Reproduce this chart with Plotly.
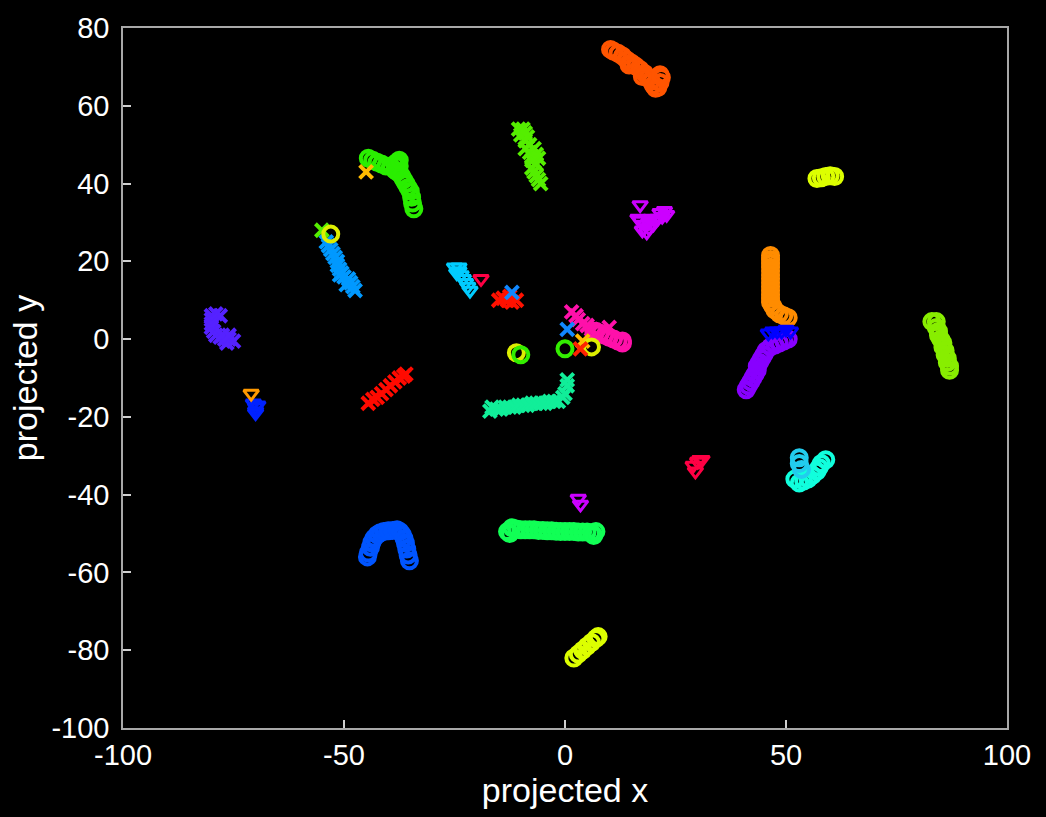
import plotly.graph_objects as go

# ---------------- data ----------------
x_ticks = [-100, -50, 0, 50, 100]
x_tick_labels = ["-100", "-50", "0", "50", "100"]
y_ticks = [-100, -80, -60, -40, -20, 0, 20, 40, 60, 80]
y_tick_labels = ["-100", "-80", "-60", "-40", "-20", "0", "20", "40", "60", "80"]

orange_red_x = [10.3, 11.0, 12.0, 13.0, 14.0, 15.0, 16.0, 17.0, 18.0, 18.8, 19.5, 20.0, 20.5, 21.0, 21.5, 21.8, 21.5, 14.5, 17.5]
orange_red_y = [74.5, 74.0, 73.5, 72.8, 71.8, 71.0, 70.2, 69.3, 68.3, 67.3, 66.3, 65.3, 64.5, 64.7, 66.0, 67.3, 68.0, 70.5, 67.5]

green_o_x = [-44.5, -43.5, -42.5, -41.5, -40.5, -39.5, -38.5, -38.0, -37.5, -38.0, -37.0, -36.5, -36.0, -35.5, -35.0, -34.7, -34.5, -34.2, -38.5, -37.5]
green_o_y = [46.5, 46.0, 45.5, 45.0, 44.5, 44.5, 45.0, 45.5, 44.5, 43.0, 42.0, 41.0, 40.0, 39.0, 38.0, 36.5, 35.0, 33.5, 43.5, 46.0]

green_x_x = [-10.5, -9.5, -9.0, -10.0, -8.5, -9.0, -8.0, -9.0, -7.0, -8.0, -6.5, -7.5, -6.0, -7.5, -6.5, -7.5, -7.0, -6.5, -6.0, -5.5]
green_x_y = [54.0, 54.0, 53.0, 52.5, 52.0, 51.0, 50.0, 49.0, 49.0, 48.0, 47.5, 47.0, 46.5, 46.0, 45.0, 44.0, 43.0, 42.0, 41.0, 40.0]

yellow_top_x = [57.0, 58.0, 59.0, 60.0, 61.0]
yellow_top_y = [41.3, 41.5, 41.8, 42.0, 41.8]

magenta_tri_x = [17.0, 17.0, 18.0, 19.0, 19.0, 20.0, 20.5, 21.0, 22.0, 23.0, 22.5, 17.5, 18.5, 19.5, 21.5, 16.5, 3.0, 3.5]
magenta_tri_y = [34.5, 30.5, 29.5, 28.5, 30.0, 29.5, 30.5, 31.0, 31.5, 32.0, 33.0, 28.0, 27.5, 31.0, 32.5, 31.0, -41.0, -42.5]

azure_x_x = [-54.0, -53.5, -53.0, -52.5, -52.0, -51.5, -51.5, -51.0, -50.5, -50.0, -49.0, -48.5, -48.0, -47.5, -51.0, -49.5]
azure_x_y = [25.0, 24.0, 23.0, 22.0, 21.0, 20.0, 19.0, 18.0, 17.0, 16.0, 15.5, 14.5, 13.5, 12.5, 16.5, 14.0]

cyan_tri_x = [-25.0, -24.0, -24.0, -23.5, -23.0, -22.5, -22.0, -21.5, -24.5]
cyan_tri_y = [18.5, 18.5, 17.5, 16.5, 15.5, 14.5, 13.5, 12.5, 17.0]

red_small_x = [-15.0, -14.0, -13.0, -12.0, -11.0, -12.5]
red_small_y = [10.0, 10.5, 10.0, 9.5, 10.0, 11.0]

violet_x_x = [-80.0, -79.0, -78.0, -80.0, -80.0, -80.0, -79.5, -79.0, -78.0, -77.0, -76.0, -75.0, -76.5, -77.5, -76.0]
violet_x_y = [6.0, 6.5, 6.0, 5.0, 4.0, 3.0, 2.0, 1.0, 0.5, 0.0, 0.0, -0.5, -1.0, 1.0, 1.0]

blue_tri_left_x = [-70.5, -70.0, -69.5, -70.0, -70.0]
blue_tri_left_y = [-16.5, -17.5, -17.0, -18.5, -19.0]

red_diag_x = [-44.5, -43.5, -42.5, -41.5, -40.5, -39.5, -38.5, -37.5, -36.5, -36.0]
red_diag_y = [-16.5, -15.5, -15.0, -14.0, -13.0, -12.0, -11.0, -10.0, -9.5, -9.0]

teal_x_x = [-17.0, -16.5, -15.5, -14.5, -13.5, -12.5, -11.5, -10.5, -9.5, -8.5, -7.5, -6.5, -5.5, -4.5, -3.5, -2.5, -1.5, -0.5, 0.0, 0.5, 0.5]
teal_x_y = [-18.5, -17.5, -18.0, -18.0, -17.5, -17.5, -17.5, -17.0, -17.0, -17.0, -16.5, -16.5, -16.5, -16.5, -16.0, -16.0, -16.0, -15.0, -14.0, -12.0, -10.5]

pink_x_x = [1.5, 2.5, 3.0, 4.0, 5.0, 6.0, 10.0]
pink_x_y = [7.0, 6.0, 5.0, 4.0, 3.5, 2.5, 3.0]
pink_o_x = [6.5, 7.0, 8.0, 9.0, 10.0, 11.0, 12.0, 13.0, 13.0]
pink_o_y = [2.0, 2.0, 1.5, 1.0, 0.5, 0.0, -0.5, -1.0, -0.5]

orange_o_x = [46.5, 46.5, 46.5, 46.5, 46.5, 46.5, 46.5, 46.5, 46.5, 46.5, 46.5, 46.5, 46.5, 47.0, 47.5, 48.5, 49.5, 50.5]
orange_o_y = [21.5, 20.5, 19.5, 18.5, 17.5, 16.5, 15.5, 14.5, 13.5, 12.5, 11.5, 10.5, 9.5, 8.5, 7.5, 6.5, 6.0, 5.5]

blue_tri_right_x = [46.0, 47.0, 48.0, 49.0, 50.0, 51.0]
blue_tri_right_y = [1.5, 2.0, 2.0, 2.0, 2.5, 2.0]

purple_o_x = [50.5, 49.5, 48.5, 47.5, 46.5, 45.5, 45.0, 44.5, 44.0, 43.5, 43.5, 43.0, 42.5, 42.0, 41.5, 41.0]
purple_o_y = [0.0, -0.5, -1.0, -1.5, -2.0, -3.0, -4.0, -5.0, -6.0, -7.0, -8.0, -9.0, -10.0, -11.0, -12.0, -13.0]

lime_x = [83.0, 84.0, 84.0, 84.5, 84.5, 85.0, 85.5, 85.5, 86.0, 86.0, 86.5, 86.5, 87.0, 87.0]
lime_y = [4.5, 4.5, 3.0, 2.0, 1.0, 0.0, -1.0, -2.0, -3.0, -4.0, -5.0, -6.0, -7.0, -8.0]

crimson_tri_x = [29.0, 29.5, 30.0, 30.5, 31.0, -19.0]
crimson_tri_y = [-32.5, -34.0, -31.5, -31.0, -31.0, 15.5]

turq_o_x = [52.0, 53.0, 54.0, 55.0, 56.0, 57.0, 57.5, 58.0, 59.0]
turq_o_y = [-36.0, -37.0, -36.5, -36.0, -35.0, -34.0, -33.0, -32.0, -31.0]
skyturq_o_x = [53.0, 53.0, 53.5]
skyturq_o_y = [-30.5, -32.0, -33.5]

spring_x = [-13.0, -12.0, -11.0, -10.0, -9.0, -8.0, -7.0, -6.0, -5.0, -4.0, -3.0, -2.0, -1.0, 0.0, 1.0, 2.0, 3.0, 4.0, 5.0, 6.0, 7.0, 6.5, -12.5]
spring_y = [-49.5, -48.5, -48.8, -49.0, -49.0, -49.0, -49.0, -49.2, -49.2, -49.3, -49.3, -49.4, -49.5, -49.5, -49.5, -49.5, -49.6, -49.6, -49.6, -49.8, -49.5, -50.5, -50.0]

blue_arch_x = [-44.7, -44.5, -44.0, -43.7, -43.2, -42.5, -41.8, -41.0, -40.0, -39.0, -38.0, -37.3, -36.8, -36.4, -36.1, -35.8, -35.5, -35.2]
blue_arch_y = [-56.0, -55.0, -53.5, -52.3, -51.2, -50.3, -49.8, -49.5, -49.3, -49.2, -49.0, -49.5, -50.3, -51.3, -52.5, -54.0, -55.5, -57.0]

yellow_bot_x = [2.0, 3.0, 4.0, 5.0, 6.0, 7.0, 7.5]
yellow_bot_y = [-82.0, -81.0, -80.0, -79.0, -78.0, -77.0, -76.5]

# stray single points
stray_gold_x_x = [-45.0, 4.0]
stray_gold_x_y = [43.0, -0.5]
stray_green_x_x = [-55.0]
stray_green_x_y = [28.0]
stray_yellow_o_x = [-53.0, -11.0, 6.0]
stray_yellow_o_y = [27.0, -3.5, -2.0]
stray_green_o_x = [-10.0, 0.0]
stray_green_o_y = [-4.0, -2.5]
stray_blue_x_x = [-12.0, 0.5]
stray_blue_x_y = [12.0, 2.5]
stray_red_x_x = [3.5]
stray_red_x_y = [-2.5]
stray_orange_tri_x = [-71.0]
stray_orange_tri_y = [-14.0]

# ---------------- figure ----------------
fig = go.Figure()

def add(xs, ys, symbol, color):
    if symbol == "o":
        marker = dict(symbol="circle-open", size=15, color=color, line=dict(width=4, color=color))
    elif symbol == "x":
        marker = dict(symbol="x-thin-open", size=13, color=color, line=dict(width=4, color=color))
    else:
        marker = dict(symbol="triangle-down-open", size=13, color=color, line=dict(width=3, color=color))
    fig.add_trace(go.Scatter(x=xs, y=ys, mode="markers", marker=marker,
                             showlegend=False, hoverinfo="x+y"))

add(orange_red_x, orange_red_y, "o", "#ff5500")
add(green_o_x, green_o_y, "o", "#2aee00")
add(green_x_x, green_x_y, "x", "#55ee00")
add(yellow_top_x, yellow_top_y, "o", "#ddff00")
add(magenta_tri_x, magenta_tri_y, "t", "#cc00ff")
add(azure_x_x, azure_x_y, "x", "#0099ff")
add(cyan_tri_x, cyan_tri_y, "t", "#00ccff")
add(red_small_x, red_small_y, "x", "#ff1100")
add(violet_x_x, violet_x_y, "x", "#5522ff")
add(blue_tri_left_x, blue_tri_left_y, "t", "#0022ff")
add(red_diag_x, red_diag_y, "x", "#ff0a00")
add(teal_x_x, teal_x_y, "x", "#11ee99")
add(pink_x_x, pink_x_y, "x", "#ff11aa")
add(pink_o_x, pink_o_y, "o", "#ff11aa")
add(orange_o_x, orange_o_y, "o", "#ff8c00")
add(purple_o_x, purple_o_y, "o", "#8800ff")
add(blue_tri_right_x, blue_tri_right_y, "t", "#0000ff")
add(lime_x, lime_y, "o", "#88ee00")
add(crimson_tri_x, crimson_tri_y, "t", "#ff0044")
add(turq_o_x, turq_o_y, "o", "#11ffdd")
add(skyturq_o_x, skyturq_o_y, "o", "#22ccee")
add(spring_x, spring_y, "o", "#11ff55")
add(blue_arch_x, blue_arch_y, "o", "#0055ff")
add(yellow_bot_x, yellow_bot_y, "o", "#ddff00")
add(stray_gold_x_x, stray_gold_x_y, "x", "#ffbb00")
add(stray_green_x_x, stray_green_x_y, "x", "#55ee00")
add(stray_yellow_o_x, stray_yellow_o_y, "o", "#ddee00")
add(stray_green_o_x, stray_green_o_y, "o", "#33ee00")
add(stray_blue_x_x, stray_blue_x_y, "x", "#1188ff")
add(stray_red_x_x, stray_red_x_y, "x", "#ff2200")
add(stray_orange_tri_x, stray_orange_tri_y, "t", "#ff9900")

FONT = "Liberation Sans, Arial, sans-serif"
axis_common = dict(
    showgrid=False, zeroline=False,
    showline=True, mirror=True, linecolor="#a8a8a8", linewidth=1.5,
    ticks="inside", ticklen=8, tickcolor="#d0d0d0", tickwidth=1.5,
    tickfont=dict(family=FONT, size=29, color="white"),
)
fig.update_xaxes(range=[-100, 100], tickvals=x_ticks, ticktext=x_tick_labels, **axis_common,
                 title=dict(text="projected x", font=dict(family=FONT, size=34, color="white"), standoff=2))
fig.update_yaxes(range=[-100, 80], tickvals=y_ticks, ticktext=y_tick_labels, ticklabelstandoff=6, **axis_common,
                 title=dict(text="projected y", font=dict(family=FONT, size=34, color="white"), standoff=4))

fig.update_layout(
    width=1046, height=817,
    paper_bgcolor="black", plot_bgcolor="black",
    margin=dict(l=123, r=39, t=28, b=89),
)

fig.write_html("out.html")
